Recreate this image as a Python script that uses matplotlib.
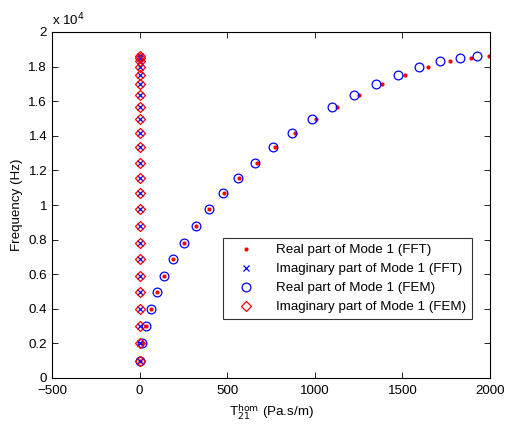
import matplotlib
matplotlib.use("Agg")
import matplotlib.pyplot as plt

plt.rcParams['font.family'] = ['Liberation Sans', 'DejaVu Sans']
plt.rcParams['font.size'] = 9.6

freq = [1000, 2000, 2980, 3970, 4950, 5900, 6860, 7820, 8790, 9750, 10680, 11580,
        12450, 13330, 14140, 14950, 15680, 16360, 16990, 17520, 17975, 18300, 18510, 18610]
real_fem = [5, 15, 35, 65, 101, 141, 192, 253, 322, 394, 476, 563,
            659, 760, 868, 982, 1100, 1224, 1348, 1473, 1597, 1715, 1827, 1928]
real_fft = [5, 15, 36, 66, 102, 142, 193, 254, 323, 396, 479, 567,
            668, 775, 885, 1005, 1128, 1254, 1385, 1515, 1648, 1770, 1892, 1996]
imag_fft = [0, 0, 0, 0, 0, 0, 0, 0, 0, 0, 0, 0,
            0, 0, 0, 0, 0, 0, 0, 0, 0, 0, 0, 0]
imag_fem = [0, 0, 0, 0, 0, 0, 0, 0, 0, 0, 0, 0,
            0, 0, 0, 0, 0, 0, 0, 0, 0, 0, 0, 0]

labels = ['Real part of Mode 1 (FFT)', 'Imaginary part of Mode 1 (FFT)',
          'Real part of Mode 1 (FEM)', 'Imaginary part of Mode 1 (FEM)']

fig = plt.figure(figsize=(5.07, 4.25), dpi=100)
ax = fig.add_axes([52/507, 47/425, 438/507, 346/425])

ax.plot(real_fft, freq, linestyle='none', marker='.', color='red', markersize=4, label=labels[0])
ax.plot(imag_fft, freq, linestyle='none', marker='x', color='blue', markersize=4, markeredgewidth=0.9, label=labels[1])
ax.plot(real_fem, freq, linestyle='none', marker='o', markerfacecolor='none', markeredgecolor='blue',
        markersize=6.3, markeredgewidth=0.9, label=labels[2])
ax.plot(imag_fem, freq, linestyle='none', marker='D', markerfacecolor='none', markeredgecolor='red',
        markersize=5.5, markeredgewidth=0.9, label=labels[3])

ax.set_xlim(-500, 2000)
ax.set_ylim(0, 20000)
ax.set_xticks([-500, 0, 500, 1000, 1500, 2000])
yt = [0, 2000, 4000, 6000, 8000, 10000, 12000, 14000, 16000, 18000, 20000]
ax.set_yticks(yt)
ax.set_yticklabels(['0', '0.2', '0.4', '0.6', '0.8', '1', '1.2', '1.4', '1.6', '1.8', '2'])
ax.tick_params(direction='in', top=True, right=True, length=4, width=0.6, labelsize=9.6)
ax.tick_params(axis='x', pad=5)
for s in ax.spines.values():
    s.set_linewidth(0.8)

ax.text(0.0, 1.012, r'x 10$^4$', transform=ax.transAxes, fontsize=9.6, ha='left', va='bottom')
ax.set_xlabel(r'T$_{21}^{\mathrm{hom}}$ (Pa.s/m)', fontsize=9.6, labelpad=4)
ax.set_ylabel('Frequency (Hz)', fontsize=9.6, labelpad=4)

leg = ax.legend(loc='lower right', bbox_to_anchor=(0.959, 0.17), fontsize=9.6, frameon=True,
                fancybox=False, edgecolor='black', handlelength=2.6, handletextpad=0.9,
                borderpad=0.45, labelspacing=0.5, borderaxespad=0)
leg.get_frame().set_linewidth(0.8)

fig.savefig('out.png', dpi=100)
